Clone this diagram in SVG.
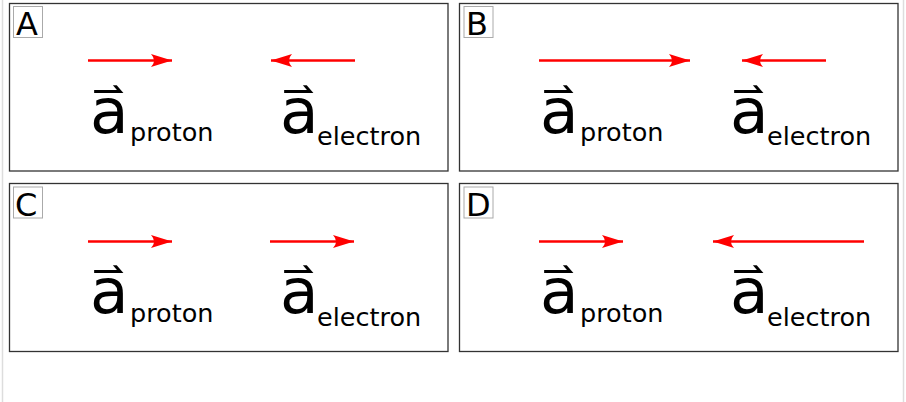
<svg xmlns="http://www.w3.org/2000/svg" width="906" height="402" viewBox="0 0 906 402">
<defs>
<style>
.frame{fill:#fff;stroke:#333;stroke-width:1.3}
.lbox{fill:#fff;stroke:#aaa;stroke-width:1}
.lbl{font-family:"DejaVu Sans",sans-serif;font-size:32px;fill:#000}
.big{font-family:"DejaVu Sans",sans-serif;font-size:63px;fill:#000}
.sub{font-family:"DejaVu Sans",sans-serif;font-size:25.5px;fill:#000}
.arr{stroke:#f00;stroke-width:2.5;fill:none}
.edge{stroke:#ddd;stroke-width:1.5}
</style>
<marker id="ah" viewBox="-22 -7 24 14" refX="0" refY="0" markerUnits="userSpaceOnUse" markerWidth="24" markerHeight="14" orient="auto">
<path d="M0,0 L-21,-6.5 Q-15,0 -21,6.5 Z" fill="#f00"/>
</marker>
</defs>
<rect width="906" height="402" fill="#fff"/>
<line class="edge" x1="2.5" y1="0" x2="2.5" y2="402"/>
<line class="edge" x1="903.5" y1="0" x2="903.5" y2="402"/>

<g id="panelA">
<rect class="frame" x="9.5" y="3.5" width="438.5" height="167.5"/>
<rect class="lbox" x="13.5" y="6.5" width="29" height="31"/>
<text class="lbl" x="16" y="35">A</text>
<text class="big" x="90" y="133">a&#x20D1;</text>
<text class="sub" x="130" y="141">proton</text>
<text class="big" x="280" y="133">a&#x20D1;</text>
<text class="sub" x="317" y="145">electron</text>
</g>
<g id="panelB">
<rect class="frame" x="459.5" y="3.5" width="438.5" height="167.5"/>
<rect class="lbox" x="464" y="6.5" width="29" height="31"/>
<text class="lbl" x="466" y="35">B</text>
<text class="big" x="540" y="133">a&#x20D1;</text>
<text class="sub" x="580" y="141">proton</text>
<text class="big" x="730" y="133">a&#x20D1;</text>
<text class="sub" x="767" y="145">electron</text>
</g>
<g id="panelC">
<rect class="frame" x="9.5" y="183.5" width="438.5" height="168"/>
<rect class="lbox" x="13.5" y="187" width="29" height="31"/>
<text class="lbl" x="15" y="215.5">C</text>
<text class="big" x="90" y="313">a&#x20D1;</text>
<text class="sub" x="130" y="322">proton</text>
<text class="big" x="280" y="313">a&#x20D1;</text>
<text class="sub" x="317" y="326">electron</text>
</g>
<g id="panelD">
<rect class="frame" x="459.5" y="183.5" width="438.5" height="168"/>
<rect class="lbox" x="464" y="187" width="29" height="31"/>
<text class="lbl" x="466" y="215.5">D</text>
<text class="big" x="540" y="313">a&#x20D1;</text>
<text class="sub" x="580" y="322">proton</text>
<text class="big" x="730" y="313">a&#x20D1;</text>
<text class="sub" x="767" y="326">electron</text>
</g>

<g id="connectors">
<line class="arr" x1="88" y1="60.5" x2="172" y2="60.5" marker-end="url(#ah)"/>
<line class="arr" x1="355" y1="60.5" x2="271" y2="60.5" marker-end="url(#ah)"/>
<line class="arr" x1="539" y1="60.5" x2="690" y2="60.5" marker-end="url(#ah)"/>
<line class="arr" x1="826" y1="60.5" x2="742" y2="60.5" marker-end="url(#ah)"/>
<line class="arr" x1="88" y1="241.5" x2="172" y2="241.5" marker-end="url(#ah)"/>
<line class="arr" x1="270" y1="241.5" x2="354" y2="241.5" marker-end="url(#ah)"/>
<line class="arr" x1="539" y1="241.5" x2="623" y2="241.5" marker-end="url(#ah)"/>
<line class="arr" x1="864" y1="241.5" x2="713" y2="241.5" marker-end="url(#ah)"/>
</g>
</svg>
